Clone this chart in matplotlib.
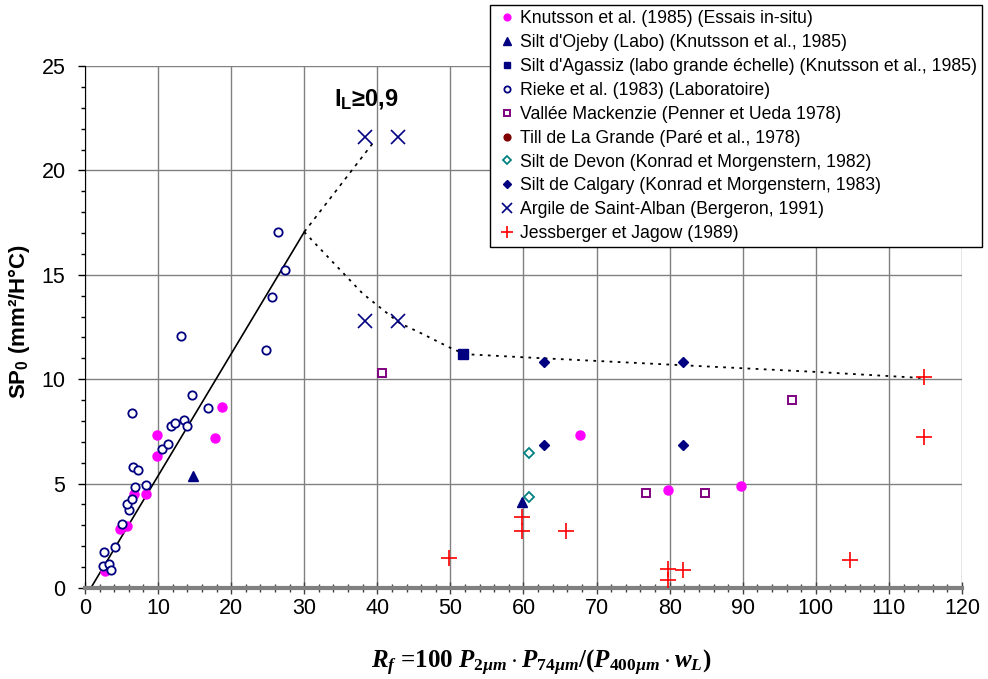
import matplotlib.pyplot as plt
from matplotlib.ticker import MultipleLocator

plt.rcParams["font.family"] = ["Liberation Sans", "DejaVu Sans"]
plt.rcParams["mathtext.fontset"] = "custom"
plt.rcParams["mathtext.rm"] = "Liberation Serif:bold"
plt.rcParams["mathtext.bf"] = "Liberation Sans:bold"
plt.rcParams["mathtext.it"] = "Liberation Serif:italic:bold"

# Knutsson et al. (1985) in-situ
knut_x = [2.7, 4.8, 5.8, 6.7, 8.3, 9.8, 9.8, 17.8, 18.8, 67.7, 79.8, 89.7]
knut_y = [0.8, 2.83, 2.97, 4.5, 4.5, 6.3, 7.33, 7.2, 8.65, 7.33, 4.69, 4.89]

ojeby_x = [14.8, 59.8]
ojeby_y = [5.38, 4.13]

agassiz_x = [51.7]
agassiz_y = [11.19]

rieke_x = [2.4, 3.3, 3.5, 2.6, 4.1, 5.1, 6.0, 5.8, 6.4, 6.9, 8.3, 6.6, 7.2, 6.4,
           10.5, 11.3, 11.8, 12.3, 13.6, 13.9, 14.6, 16.8, 13.1,
           24.75, 25.6, 26.4, 27.4]
rieke_y = [1.07, 1.13, 0.85, 1.74, 1.96, 3.07, 3.75, 4.0, 4.25, 4.84, 4.92, 5.8, 5.65, 8.37,
           6.64, 6.91, 7.77, 7.9, 8.03, 7.77, 9.23, 8.64, 12.08,
           11.41, 13.94, 17.05, 15.23]

mack_x = [40.7, 76.8, 84.8, 96.8]
mack_y = [10.3, 4.53, 4.53, 9.02]

# Till de La Grande: no point visible on the chart
till_x = []
till_y = []

devon_x = [60.8, 60.8]
devon_y = [6.48, 4.34]

calgary_x = [62.8, 62.8, 81.8, 81.8]
calgary_y = [10.81, 6.85, 10.81, 6.85]

alban_x = [38.3, 42.8, 38.3, 42.8]
alban_y = [21.58, 21.58, 12.8, 12.8]

jess_x = [49.8, 59.8, 59.8, 65.8, 79.8, 79.8, 81.8, 104.7, 114.8, 114.8]
jess_y = [1.45, 3.42, 2.73, 2.73, 0.89, 0.38, 0.86, 1.34, 10.09, 7.22]

# trend lines
trend_x = [0, 0.8, 30]
trend_y = [0, 0, 17.05]
upper_x = [30, 39.6]
upper_y = [17.05, 21.4]
lower_x = [30, 38, 43, 46, 50, 52, 60, 80, 100, 115]
lower_y = [17.05, 14.1, 12.7, 12.2, 11.5, 11.2, 11.05, 10.7, 10.35, 10.05]

fig = plt.figure(figsize=(9.88, 6.79), dpi=100)
ax = fig.add_axes([0.086, 0.134, 0.8877, 0.7688])

ax.plot(trend_x, trend_y, color="black", lw=1.2, zorder=2)
ax.plot(upper_x, upper_y, color="black", lw=1.2, ls=(0, (2, 3)), zorder=2)
ax.plot(lower_x, lower_y, color="black", lw=1.3, ls=(0, (1.5, 3)), zorder=2)

ax.plot(knut_x, knut_y, "o", color="#ff00ff", ms=6.5, mec="#ff00ff",
        label="Knutsson et al. (1985) (Essais in-situ)", zorder=3)
ax.plot(ojeby_x, ojeby_y, "^", color="#000080", ms=7,
        label="Silt d'Ojeby (Labo) (Knutsson et al., 1985)", zorder=3)
ax.plot(agassiz_x, agassiz_y, "s", color="#000080", ms=6.5,
        label="Silt d'Agassiz (labo grande échelle) (Knutsson et al., 1985)", zorder=3)
ax.plot(rieke_x, rieke_y, "o", mfc="white", mec="#000080", mew=1.3, ms=6,
        label="Rieke et al. (1983) (Laboratoire)", zorder=3)
ax.plot(mack_x, mack_y, "s", mfc="white", mec="#800080", mew=1.4, ms=6,
        label="Vallée Mackenzie (Penner et Ueda 1978)", zorder=3)
ax.plot(till_x, till_y, "o", color="#800000", ms=6.5,
        label="Till de La Grande (Paré et al., 1978)", zorder=3)
ax.plot(devon_x, devon_y, "D", mfc="white", mec="#008080", mew=1.3, ms=5,
        label="Silt de Devon (Konrad et Morgenstern, 1982)", zorder=3)
ax.plot(calgary_x, calgary_y, "D", color="#000080", ms=5.5,
        label="Silt de Calgary (Konrad et Morgenstern, 1983)", zorder=3)
ax.plot(alban_x, alban_y, "x", color="#000080", mew=1.2, ms=10,
        label="Argile de Saint-Alban (Bergeron, 1991)", zorder=3)
ax.plot(jess_x, jess_y, "+", color="#ff0000", mew=1.2, ms=11,
        label="Jessberger et Jagow (1989)", zorder=3)

ax.text(38.5, 23.4, r"I$_\mathbf{L}$≥0,9", fontsize=17, fontweight="bold",
        ha="center", va="center")

ax.set_xlim(0, 120)
ax.set_ylim(0, 25)
ax.xaxis.set_major_locator(MultipleLocator(10))
ax.xaxis.set_minor_locator(MultipleLocator(2))
ax.yaxis.set_major_locator(MultipleLocator(5))
ax.yaxis.set_minor_locator(MultipleLocator(1))
ax.grid(True, which="major", color="#808080", lw=1)
ax.set_axisbelow(True)

for s in ["top", "right"]:
    ax.spines[s].set_visible(False)
ax.spines["left"].set_color("black")
ax.spines["bottom"].set_color("#808080")
ax.spines["bottom"].set_linewidth(3)

ax.tick_params(axis="x", which="major", direction="inout", length=9, width=1,
               color="#404040", labelsize=15.5, pad=3)
ax.tick_params(axis="x", which="minor", direction="inout", length=6, width=1,
               color="#404040")
ax.tick_params(axis="y", which="major", direction="out", length=5, width=1,
               labelsize=15.5, pad=9)
ax.tick_params(axis="y", which="minor", direction="out", length=3, width=1)

ax.set_ylabel(r"SP$_\mathbf{0}$ (mm²/H°C)", fontsize=16, fontweight="bold")
ax.yaxis.set_label_coords(-0.06, 0.51)
ax.set_xlabel(r"$\mathit{R_f}$ =100 $\mathit{P_{2µm}}\cdot\mathit{P_{74µm}}$/($\mathit{P_{400µm}}\cdot\mathit{w_L}$)",
              fontsize=18, fontfamily="Liberation Serif", fontweight="bold")
ax.xaxis.set_label_coords(0.52, -0.115)

leg = fig.legend(loc="upper left", bbox_to_anchor=(490 / 988, 1 - 5 / 679),
                 borderaxespad=0, fontsize=12.7, frameon=True, fancybox=False,
                 framealpha=1, edgecolor="black", handlelength=1.3,
                 handletextpad=0.1, labelspacing=0.39, borderpad=0.3,
                 markerscale=0.75)
leg.get_frame().set_linewidth(1)

fig.savefig("out.png", dpi=100)
